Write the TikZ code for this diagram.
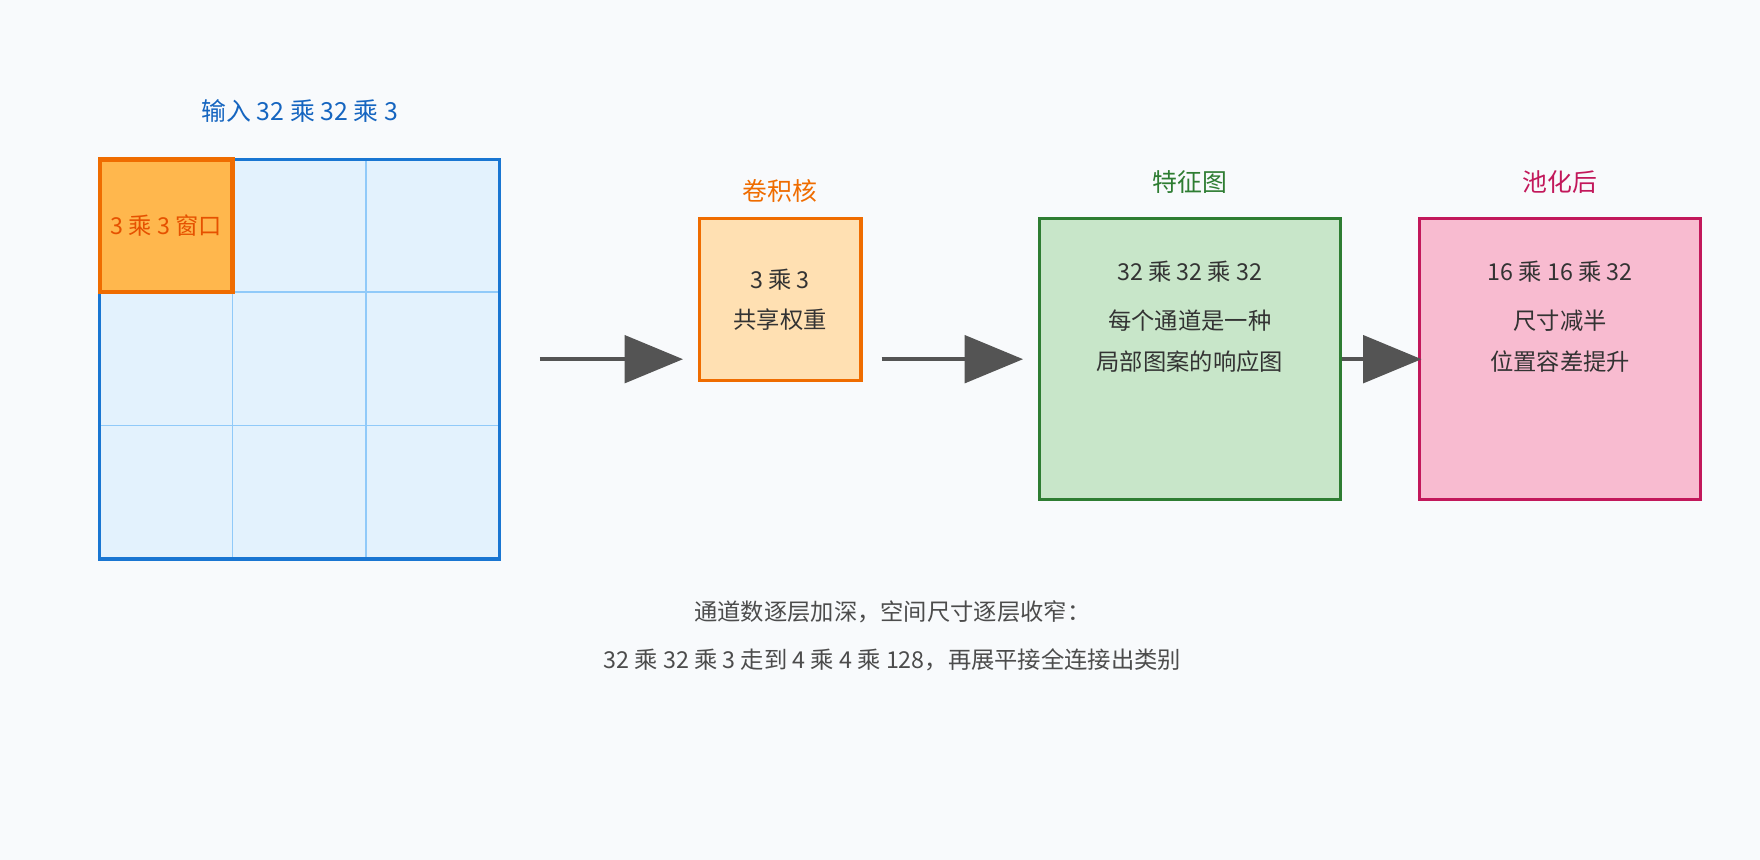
\documentclass[tikz,border=0pt]{standalone}
\usepackage{fontspec}
\setmainfont{Noto Sans CJK SC}
\usetikzlibrary{arrows.meta, positioning}
\definecolor{bgc}{HTML}{F8FAFC}
\definecolor{inblue}{HTML}{1565C0}
\definecolor{inedge}{HTML}{1976D2}
\definecolor{infill}{HTML}{E3F2FD}
\definecolor{gridc}{HTML}{90CAF9}
\definecolor{orgedge}{HTML}{EF6C00}
\definecolor{orgtext}{HTML}{E65100}
\definecolor{orgfill}{HTML}{FFB74D}
\definecolor{kfill}{HTML}{FFE0B2}
\definecolor{grnedge}{HTML}{2E7D32}
\definecolor{grnfill}{HTML}{C8E6C9}
\definecolor{pnkedge}{HTML}{C2185B}
\definecolor{pnkfill}{HTML}{F8BBD0}
\definecolor{txtc}{HTML}{333333}
\begin{document}
\begin{tikzpicture}[x=0.01cm, y=-0.01cm,
  every node/.style={font=\fontsize{5.9}{7}\selectfont, inner sep=0pt},
  flow/.style={draw=black!67, line width=1.15pt, -{Triangle[length=0.52cm, width=0.42cm]}},
  twoline/.style={align=center, font=\fontsize{5.9}{10.2}\selectfont},
  ttl/.style={font=\fontsize{6.3}{7}\selectfont}]
\fill [bgc] (0,0) rectangle (1568,766);
\useasboundingbox (0,0) rectangle (1568,766);
% input grid
\node [ttl, text=inblue] (intitle) at (267,99) {输入 32 乘 32 乘 3};
\fill [infill] (89,142) rectangle (445,498);
\foreach \p in {207,326} \draw [gridc, line width=0.35pt] (\p,142) -- (\p,498);
\foreach \p in {260,379} \draw [gridc, line width=0.35pt] (89,\p) -- (445,\p);
\draw [inedge, line width=0.8pt] (89,142) rectangle (445,498);
\node [draw=orgedge, fill=orgfill, line width=1.15pt, minimum width=1.18cm, minimum height=1.18cm,
  text=orgtext] (window) at (148,201) {3 乘 3 窗口};
\coordinate (inout) at (445,320);
% kernel
\node [draw=orgedge, fill=kfill, line width=0.8pt, minimum width=1.44cm, minimum height=1.44cm,
  twoline, text=txtc] (kernel) at (695,267) {3 乘 3\\共享权重};
\node [ttl, text=orgedge] (ktitle) at (695,170) {卷积核};
% feature map
\node [draw=grnedge, fill=grnfill, line width=0.8pt, minimum width=2.68cm, minimum height=2.5cm] (feat) at (1060,320) {};
\node [ttl, text=grnedge] (ftitle) at (1060,162) {特征图};
\node [text=txtc] (f1) at (1060,242) {32 乘 32 乘 32};
\node [text=txtc, twoline] (f2) at (1060,304) {每个通道是一种\\局部图案的响应图};
% pooled
\node [draw=pnkedge, fill=pnkfill, line width=0.8pt, minimum width=2.5cm, minimum height=2.5cm] (pool) at (1390,320) {};
\node [ttl, text=pnkedge] (ptitle) at (1390,162) {池化后};
\node [text=txtc] (p1) at (1390,242) {16 乘 16 乘 32};
\node [text=txtc, twoline] (p2) at (1390,304) {尺寸减半\\位置容差提升};
% arrows
\draw [flow] ([xshift=0.36cm]inout) -- ([xshift=-0.13cm]kernel.west |- inout);
\draw [flow] ([xshift=0.17cm]kernel.east |- inout) -- ([xshift=-0.13cm]feat.west);
\draw [flow] (feat.east) -- ([xshift=0.03cm]pool.west);
% note
\node [text=black!70] (note1) at (795,545) {通道数逐层加深，空间尺寸逐层收窄：};
\node [text=black!70] (note2) at (795,588) {32 乘 32 乘 3 走到 4 乘 4 乘 128，再展平接全连接出类别};
\end{tikzpicture}
\end{document}
